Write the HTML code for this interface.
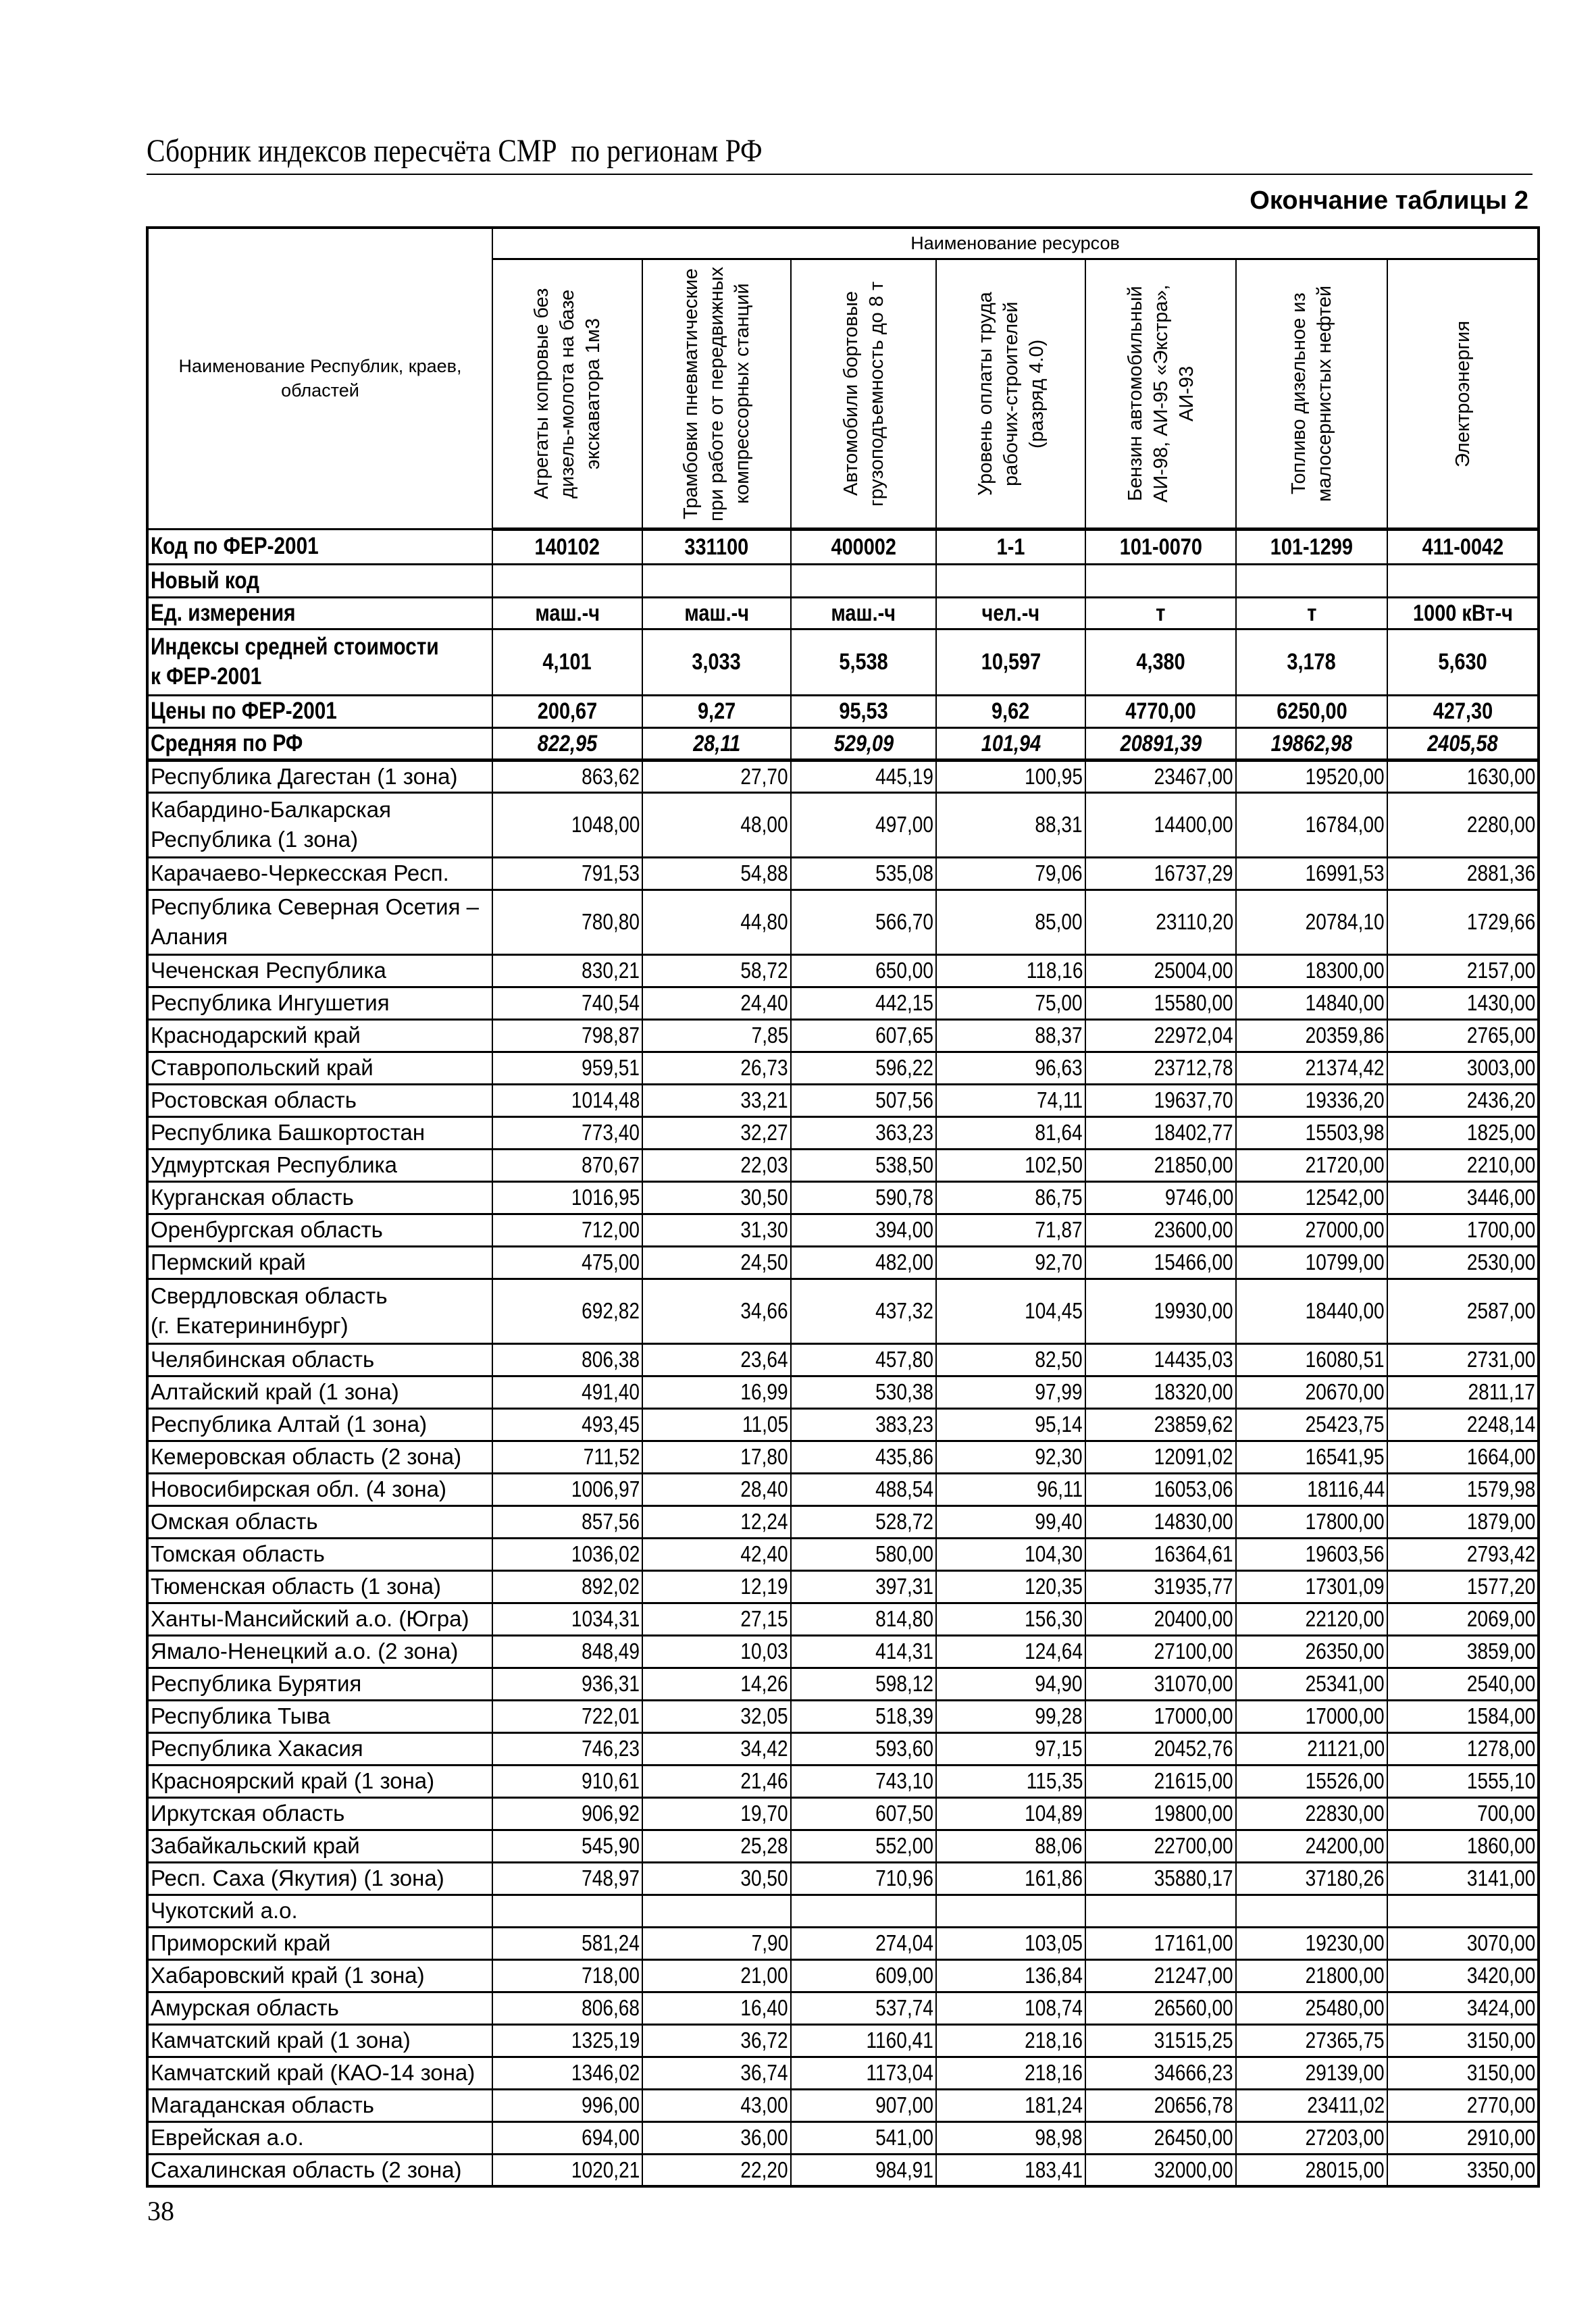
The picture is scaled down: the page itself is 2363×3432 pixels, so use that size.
<!DOCTYPE html>
<html><head><meta charset="utf-8">
<style>
body{margin:0;background:#fff;}
#p{position:relative;width:2363px;height:3432px;overflow:hidden;background:#fff;font-family:"Liberation Sans",sans-serif;color:#000;}
.t{position:absolute;white-space:nowrap;}
table{position:absolute;left:216px;top:335px;width:2060px;border-collapse:collapse;table-layout:fixed;border:4px solid #000;}
td{border-left:2px solid #000;border-right:2px solid #000;border-top:3px solid #000;border-bottom:3px solid #000;padding:0 3px;overflow:hidden;white-space:nowrap;font-size:33px;line-height:40px;}
td.nm{text-align:left;padding-left:3px;}
td.v{text-align:right;}
td.v span{display:inline-block;transform:scaleX(.85);transform-origin:right center;}
tr.b td{font-weight:bold;font-size:34px;text-align:center;}
tr.b td.nm{text-align:left;font-size:35px;}
tr.b td span{display:inline-block;transform:scaleX(.85);}
tr.b td.nm span{transform-origin:left center;}
tr.i td{font-style:italic;}
.vt{writing-mode:vertical-rl;transform:rotate(180deg);font-size:29px;line-height:38px;text-align:center;margin:auto;white-space:nowrap;height:390px;}
.hv td{vertical-align:middle;text-align:center;padding:0;}
tr.thick td{border-bottom:5px solid #000;}
</style></head><body><div id="p">
<div class="t" style="left:217px;top:196px;font-family:'Liberation Serif',serif;font-size:48px;transform:scaleX(.86);transform-origin:left center;">Сборник индексов пересчёта СМР&nbsp; по регионам РФ</div>
<div style="position:absolute;left:217px;top:257px;width:2052px;height:2px;background:#000;"></div>
<div class="t" style="right:100px;top:276px;font-size:38px;font-weight:bold;">Окончание таблицы 2</div>
<table>
<colgroup><col style="width:511px"><col style="width:222px"><col style="width:220px"><col style="width:215px"><col style="width:221px"><col style="width:223px"><col style="width:224px"><col style="width:224px"></colgroup>
<tr style="height:46px"><td rowspan="2" style="text-align:center;font-size:27px;line-height:36px;white-space:normal;padding:0 40px;">Наименование Республик, краев, областей</td><td colspan="7" style="text-align:center;font-size:27px;">Наименование ресурсов</td></tr>
<tr class="hv thick" style="height:400px">
<td><div class="vt">Агрегаты копровые без<br>дизель-молота на базе<br>экскаватора 1м3</div></td>
<td><div class="vt">Трамбовки пневматические<br>при работе от передвижных<br>компрессорных станций</div></td>
<td><div class="vt">Автомобили бортовые<br>грузоподъемность до 8 т</div></td>
<td><div class="vt">Уровень оплаты труда<br>рабочих-строителей<br>(разряд 4.0)</div></td>
<td><div class="vt">Бензин автомобильный<br>АИ-98, АИ-95 «Экстра»,<br>АИ-93</div></td>
<td><div class="vt">Топливо дизельное из<br>малосернистых нефтей</div></td>
<td><div class="vt">Электроэнергия</div></td>
</tr>
<tr class="b" style="height:52px"><td class="nm"><span>Код по ФЕР-2001</span></td><td><span>140102</span></td><td><span>331100</span></td><td><span>400002</span></td><td><span>1-1</span></td><td><span>101-0070</span></td><td><span>101-1299</span></td><td><span>411-0042</span></td></tr>
<tr class="b" style="height:49px"><td class="nm"><span>Новый код</span></td><td></td><td></td><td></td><td></td><td></td><td></td><td></td></tr>
<tr class="b" style="height:47px"><td class="nm"><span>Ед. измерения</span></td><td><span>маш.-ч</span></td><td><span>маш.-ч</span></td><td><span>маш.-ч</span></td><td><span>чел.-ч</span></td><td><span>т</span></td><td><span>т</span></td><td><span>1000 кВт-ч</span></td></tr>
<tr class="b" style="height:98px"><td class="nm" style="line-height:44px;"><span>Индексы средней стоимости<br>к ФЕР-2001</span></td><td><span>4,101</span></td><td><span>3,033</span></td><td><span>5,538</span></td><td><span>10,597</span></td><td><span>4,380</span></td><td><span>3,178</span></td><td><span>5,630</span></td></tr>
<tr class="b" style="height:48px"><td class="nm"><span>Цены по ФЕР-2001</span></td><td><span>200,67</span></td><td><span>9,27</span></td><td><span>95,53</span></td><td><span>9,62</span></td><td><span>4770,00</span></td><td><span>6250,00</span></td><td><span>427,30</span></td></tr>
<tr class="b i thick" style="height:48px"><td class="nm" style="font-style:normal"><span>Средняя по РФ</span></td><td><span>822,95</span></td><td><span>28,11</span></td><td><span>529,09</span></td><td><span>101,94</span></td><td><span>20891,39</span></td><td><span>19862,98</span></td><td><span>2405,58</span></td></tr>
<tr style="height:48px"><td class="nm">Республика Дагестан (1 зона)</td><td class="v"><span>863,62</span></td><td class="v"><span>27,70</span></td><td class="v"><span>445,19</span></td><td class="v"><span>100,95</span></td><td class="v"><span>23467,00</span></td><td class="v"><span>19520,00</span></td><td class="v"><span>1630,00</span></td></tr>
<tr style="height:96px"><td class="nm" style="line-height:44px">Кабардино-Балкарская<br>Республика (1 зона)</td><td class="v"><span>1048,00</span></td><td class="v"><span>48,00</span></td><td class="v"><span>497,00</span></td><td class="v"><span>88,31</span></td><td class="v"><span>14400,00</span></td><td class="v"><span>16784,00</span></td><td class="v"><span>2280,00</span></td></tr>
<tr style="height:48px"><td class="nm">Карачаево-Черкесская Респ.</td><td class="v"><span>791,53</span></td><td class="v"><span>54,88</span></td><td class="v"><span>535,08</span></td><td class="v"><span>79,06</span></td><td class="v"><span>16737,29</span></td><td class="v"><span>16991,53</span></td><td class="v"><span>2881,36</span></td></tr>
<tr style="height:96px"><td class="nm" style="line-height:44px">Республика Северная Осетия –<br>Алания</td><td class="v"><span>780,80</span></td><td class="v"><span>44,80</span></td><td class="v"><span>566,70</span></td><td class="v"><span>85,00</span></td><td class="v"><span>23110,20</span></td><td class="v"><span>20784,10</span></td><td class="v"><span>1729,66</span></td></tr>
<tr style="height:48px"><td class="nm">Чеченская Республика</td><td class="v"><span>830,21</span></td><td class="v"><span>58,72</span></td><td class="v"><span>650,00</span></td><td class="v"><span>118,16</span></td><td class="v"><span>25004,00</span></td><td class="v"><span>18300,00</span></td><td class="v"><span>2157,00</span></td></tr>
<tr style="height:48px"><td class="nm">Республика Ингушетия</td><td class="v"><span>740,54</span></td><td class="v"><span>24,40</span></td><td class="v"><span>442,15</span></td><td class="v"><span>75,00</span></td><td class="v"><span>15580,00</span></td><td class="v"><span>14840,00</span></td><td class="v"><span>1430,00</span></td></tr>
<tr style="height:48px"><td class="nm">Краснодарский край</td><td class="v"><span>798,87</span></td><td class="v"><span>7,85</span></td><td class="v"><span>607,65</span></td><td class="v"><span>88,37</span></td><td class="v"><span>22972,04</span></td><td class="v"><span>20359,86</span></td><td class="v"><span>2765,00</span></td></tr>
<tr style="height:48px"><td class="nm">Ставропольский край</td><td class="v"><span>959,51</span></td><td class="v"><span>26,73</span></td><td class="v"><span>596,22</span></td><td class="v"><span>96,63</span></td><td class="v"><span>23712,78</span></td><td class="v"><span>21374,42</span></td><td class="v"><span>3003,00</span></td></tr>
<tr style="height:48px"><td class="nm">Ростовская область</td><td class="v"><span>1014,48</span></td><td class="v"><span>33,21</span></td><td class="v"><span>507,56</span></td><td class="v"><span>74,11</span></td><td class="v"><span>19637,70</span></td><td class="v"><span>19336,20</span></td><td class="v"><span>2436,20</span></td></tr>
<tr style="height:48px"><td class="nm">Республика Башкортостан</td><td class="v"><span>773,40</span></td><td class="v"><span>32,27</span></td><td class="v"><span>363,23</span></td><td class="v"><span>81,64</span></td><td class="v"><span>18402,77</span></td><td class="v"><span>15503,98</span></td><td class="v"><span>1825,00</span></td></tr>
<tr style="height:48px"><td class="nm">Удмуртская Республика</td><td class="v"><span>870,67</span></td><td class="v"><span>22,03</span></td><td class="v"><span>538,50</span></td><td class="v"><span>102,50</span></td><td class="v"><span>21850,00</span></td><td class="v"><span>21720,00</span></td><td class="v"><span>2210,00</span></td></tr>
<tr style="height:48px"><td class="nm">Курганская область</td><td class="v"><span>1016,95</span></td><td class="v"><span>30,50</span></td><td class="v"><span>590,78</span></td><td class="v"><span>86,75</span></td><td class="v"><span>9746,00</span></td><td class="v"><span>12542,00</span></td><td class="v"><span>3446,00</span></td></tr>
<tr style="height:48px"><td class="nm">Оренбургская область</td><td class="v"><span>712,00</span></td><td class="v"><span>31,30</span></td><td class="v"><span>394,00</span></td><td class="v"><span>71,87</span></td><td class="v"><span>23600,00</span></td><td class="v"><span>27000,00</span></td><td class="v"><span>1700,00</span></td></tr>
<tr style="height:48px"><td class="nm">Пермский край</td><td class="v"><span>475,00</span></td><td class="v"><span>24,50</span></td><td class="v"><span>482,00</span></td><td class="v"><span>92,70</span></td><td class="v"><span>15466,00</span></td><td class="v"><span>10799,00</span></td><td class="v"><span>2530,00</span></td></tr>
<tr style="height:96px"><td class="nm" style="line-height:44px">Свердловская область<br>(г. Екатерининбург)</td><td class="v"><span>692,82</span></td><td class="v"><span>34,66</span></td><td class="v"><span>437,32</span></td><td class="v"><span>104,45</span></td><td class="v"><span>19930,00</span></td><td class="v"><span>18440,00</span></td><td class="v"><span>2587,00</span></td></tr>
<tr style="height:48px"><td class="nm">Челябинская область</td><td class="v"><span>806,38</span></td><td class="v"><span>23,64</span></td><td class="v"><span>457,80</span></td><td class="v"><span>82,50</span></td><td class="v"><span>14435,03</span></td><td class="v"><span>16080,51</span></td><td class="v"><span>2731,00</span></td></tr>
<tr style="height:48px"><td class="nm">Алтайский край (1 зона)</td><td class="v"><span>491,40</span></td><td class="v"><span>16,99</span></td><td class="v"><span>530,38</span></td><td class="v"><span>97,99</span></td><td class="v"><span>18320,00</span></td><td class="v"><span>20670,00</span></td><td class="v"><span>2811,17</span></td></tr>
<tr style="height:48px"><td class="nm">Республика Алтай (1 зона)</td><td class="v"><span>493,45</span></td><td class="v"><span>11,05</span></td><td class="v"><span>383,23</span></td><td class="v"><span>95,14</span></td><td class="v"><span>23859,62</span></td><td class="v"><span>25423,75</span></td><td class="v"><span>2248,14</span></td></tr>
<tr style="height:48px"><td class="nm">Кемеровская область (2 зона)</td><td class="v"><span>711,52</span></td><td class="v"><span>17,80</span></td><td class="v"><span>435,86</span></td><td class="v"><span>92,30</span></td><td class="v"><span>12091,02</span></td><td class="v"><span>16541,95</span></td><td class="v"><span>1664,00</span></td></tr>
<tr style="height:48px"><td class="nm">Новосибирская обл. (4 зона)</td><td class="v"><span>1006,97</span></td><td class="v"><span>28,40</span></td><td class="v"><span>488,54</span></td><td class="v"><span>96,11</span></td><td class="v"><span>16053,06</span></td><td class="v"><span>18116,44</span></td><td class="v"><span>1579,98</span></td></tr>
<tr style="height:48px"><td class="nm">Омская область</td><td class="v"><span>857,56</span></td><td class="v"><span>12,24</span></td><td class="v"><span>528,72</span></td><td class="v"><span>99,40</span></td><td class="v"><span>14830,00</span></td><td class="v"><span>17800,00</span></td><td class="v"><span>1879,00</span></td></tr>
<tr style="height:48px"><td class="nm">Томская область</td><td class="v"><span>1036,02</span></td><td class="v"><span>42,40</span></td><td class="v"><span>580,00</span></td><td class="v"><span>104,30</span></td><td class="v"><span>16364,61</span></td><td class="v"><span>19603,56</span></td><td class="v"><span>2793,42</span></td></tr>
<tr style="height:48px"><td class="nm">Тюменская область (1 зона)</td><td class="v"><span>892,02</span></td><td class="v"><span>12,19</span></td><td class="v"><span>397,31</span></td><td class="v"><span>120,35</span></td><td class="v"><span>31935,77</span></td><td class="v"><span>17301,09</span></td><td class="v"><span>1577,20</span></td></tr>
<tr style="height:48px"><td class="nm">Ханты-Мансийский а.о. (Югра)</td><td class="v"><span>1034,31</span></td><td class="v"><span>27,15</span></td><td class="v"><span>814,80</span></td><td class="v"><span>156,30</span></td><td class="v"><span>20400,00</span></td><td class="v"><span>22120,00</span></td><td class="v"><span>2069,00</span></td></tr>
<tr style="height:48px"><td class="nm">Ямало-Ненецкий а.о. (2 зона)</td><td class="v"><span>848,49</span></td><td class="v"><span>10,03</span></td><td class="v"><span>414,31</span></td><td class="v"><span>124,64</span></td><td class="v"><span>27100,00</span></td><td class="v"><span>26350,00</span></td><td class="v"><span>3859,00</span></td></tr>
<tr style="height:48px"><td class="nm">Республика Бурятия</td><td class="v"><span>936,31</span></td><td class="v"><span>14,26</span></td><td class="v"><span>598,12</span></td><td class="v"><span>94,90</span></td><td class="v"><span>31070,00</span></td><td class="v"><span>25341,00</span></td><td class="v"><span>2540,00</span></td></tr>
<tr style="height:48px"><td class="nm">Республика Тыва</td><td class="v"><span>722,01</span></td><td class="v"><span>32,05</span></td><td class="v"><span>518,39</span></td><td class="v"><span>99,28</span></td><td class="v"><span>17000,00</span></td><td class="v"><span>17000,00</span></td><td class="v"><span>1584,00</span></td></tr>
<tr style="height:48px"><td class="nm">Республика Хакасия</td><td class="v"><span>746,23</span></td><td class="v"><span>34,42</span></td><td class="v"><span>593,60</span></td><td class="v"><span>97,15</span></td><td class="v"><span>20452,76</span></td><td class="v"><span>21121,00</span></td><td class="v"><span>1278,00</span></td></tr>
<tr style="height:48px"><td class="nm">Красноярский край (1 зона)</td><td class="v"><span>910,61</span></td><td class="v"><span>21,46</span></td><td class="v"><span>743,10</span></td><td class="v"><span>115,35</span></td><td class="v"><span>21615,00</span></td><td class="v"><span>15526,00</span></td><td class="v"><span>1555,10</span></td></tr>
<tr style="height:48px"><td class="nm">Иркутская область</td><td class="v"><span>906,92</span></td><td class="v"><span>19,70</span></td><td class="v"><span>607,50</span></td><td class="v"><span>104,89</span></td><td class="v"><span>19800,00</span></td><td class="v"><span>22830,00</span></td><td class="v"><span>700,00</span></td></tr>
<tr style="height:48px"><td class="nm">Забайкальский край</td><td class="v"><span>545,90</span></td><td class="v"><span>25,28</span></td><td class="v"><span>552,00</span></td><td class="v"><span>88,06</span></td><td class="v"><span>22700,00</span></td><td class="v"><span>24200,00</span></td><td class="v"><span>1860,00</span></td></tr>
<tr style="height:48px"><td class="nm">Респ. Саха (Якутия) (1 зона)</td><td class="v"><span>748,97</span></td><td class="v"><span>30,50</span></td><td class="v"><span>710,96</span></td><td class="v"><span>161,86</span></td><td class="v"><span>35880,17</span></td><td class="v"><span>37180,26</span></td><td class="v"><span>3141,00</span></td></tr>
<tr style="height:48px"><td class="nm">Чукотский а.о.</td><td class="v"></td><td class="v"></td><td class="v"></td><td class="v"></td><td class="v"></td><td class="v"></td><td class="v"></td></tr>
<tr style="height:48px"><td class="nm">Приморский край</td><td class="v"><span>581,24</span></td><td class="v"><span>7,90</span></td><td class="v"><span>274,04</span></td><td class="v"><span>103,05</span></td><td class="v"><span>17161,00</span></td><td class="v"><span>19230,00</span></td><td class="v"><span>3070,00</span></td></tr>
<tr style="height:48px"><td class="nm">Хабаровский край (1 зона)</td><td class="v"><span>718,00</span></td><td class="v"><span>21,00</span></td><td class="v"><span>609,00</span></td><td class="v"><span>136,84</span></td><td class="v"><span>21247,00</span></td><td class="v"><span>21800,00</span></td><td class="v"><span>3420,00</span></td></tr>
<tr style="height:48px"><td class="nm">Амурская область</td><td class="v"><span>806,68</span></td><td class="v"><span>16,40</span></td><td class="v"><span>537,74</span></td><td class="v"><span>108,74</span></td><td class="v"><span>26560,00</span></td><td class="v"><span>25480,00</span></td><td class="v"><span>3424,00</span></td></tr>
<tr style="height:48px"><td class="nm">Камчатский край (1 зона)</td><td class="v"><span>1325,19</span></td><td class="v"><span>36,72</span></td><td class="v"><span>1160,41</span></td><td class="v"><span>218,16</span></td><td class="v"><span>31515,25</span></td><td class="v"><span>27365,75</span></td><td class="v"><span>3150,00</span></td></tr>
<tr style="height:48px"><td class="nm">Камчатский край (КАО-14 зона)</td><td class="v"><span>1346,02</span></td><td class="v"><span>36,74</span></td><td class="v"><span>1173,04</span></td><td class="v"><span>218,16</span></td><td class="v"><span>34666,23</span></td><td class="v"><span>29139,00</span></td><td class="v"><span>3150,00</span></td></tr>
<tr style="height:48px"><td class="nm">Магаданская область</td><td class="v"><span>996,00</span></td><td class="v"><span>43,00</span></td><td class="v"><span>907,00</span></td><td class="v"><span>181,24</span></td><td class="v"><span>20656,78</span></td><td class="v"><span>23411,02</span></td><td class="v"><span>2770,00</span></td></tr>
<tr style="height:48px"><td class="nm">Еврейская а.о.</td><td class="v"><span>694,00</span></td><td class="v"><span>36,00</span></td><td class="v"><span>541,00</span></td><td class="v"><span>98,98</span></td><td class="v"><span>26450,00</span></td><td class="v"><span>27203,00</span></td><td class="v"><span>2910,00</span></td></tr>
<tr style="height:48px"><td class="nm">Сахалинская область (2 зона)</td><td class="v"><span>1020,21</span></td><td class="v"><span>22,20</span></td><td class="v"><span>984,91</span></td><td class="v"><span>183,41</span></td><td class="v"><span>32000,00</span></td><td class="v"><span>28015,00</span></td><td class="v"><span>3350,00</span></td></tr>
</table>
<div class="t" style="left:218px;top:3250px;font-family:'Liberation Serif',serif;font-size:40px;">38</div>
</div></body></html>
